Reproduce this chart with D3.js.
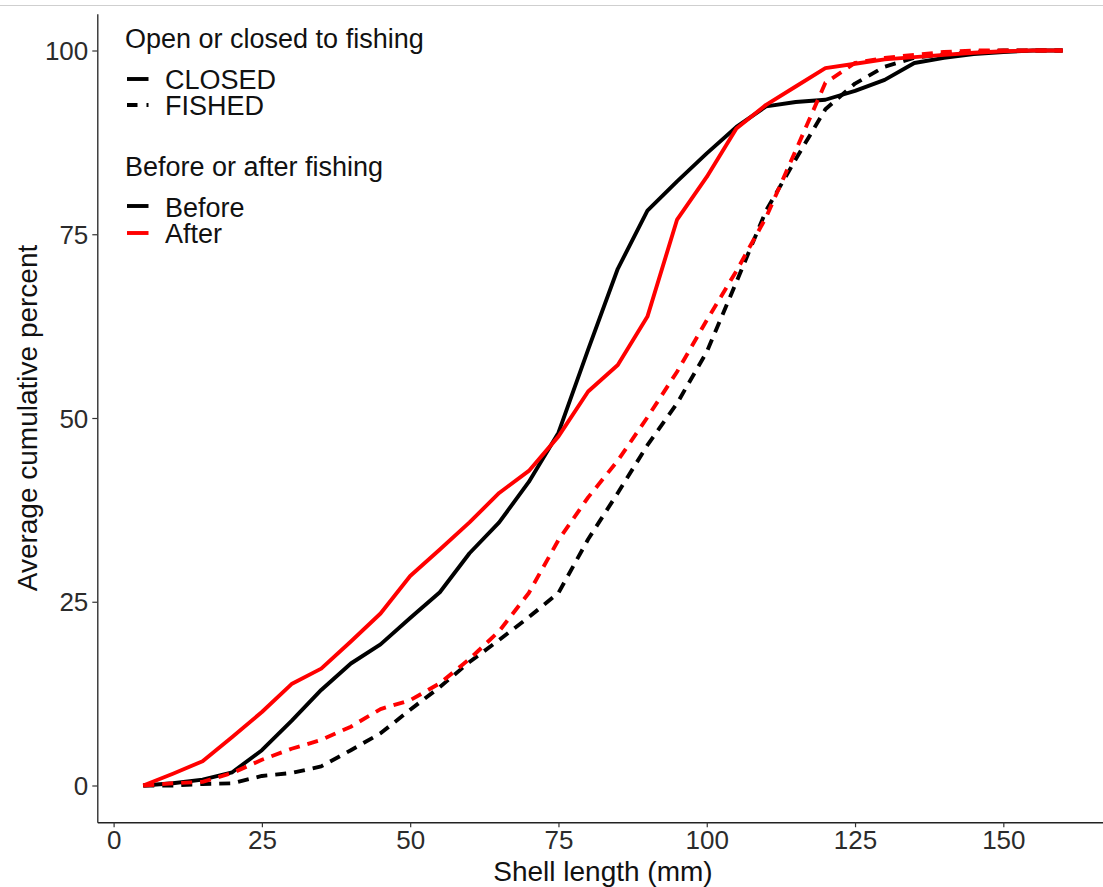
<!DOCTYPE html>
<html>
<head>
<meta charset="utf-8">
<script src="https://cdn.jsdelivr.net/npm/d3@7"></script>
<style>
  body { margin: 0; background: #fff; }
  svg { display: block; }
  text { font-family: "Liberation Sans", Arial, Helvetica, sans-serif; }
</style>
</head>
<body>
<script>
// Shell length classes (mm)
const lengths = [5, 10, 15, 20, 25, 30, 35, 40, 45, 50, 55, 60, 65, 70, 75, 80,
                 85, 90, 95, 100, 105, 110, 115, 120, 125, 130, 135, 140, 145, 150, 155, 160];

// Average cumulative percent per length class
const closedBefore = [0, 0.3, 0.8, 1.8, 4.8, 8.8, 13.0, 16.6, 19.2, 22.8, 26.3, 31.6, 35.8, 41.3, 48.0, 59.3,
                      70.3, 78.2, 82.2, 86.0, 89.6, 92.4, 93.0, 93.3, 94.5, 96.0, 98.3, 99.0, 99.5, 99.8, 100, 100];
const closedAfter  = [0, 1.6, 3.3, 6.6, 10.0, 13.8, 15.9, 19.6, 23.4, 28.5, 32.1, 35.8, 39.8, 42.8, 47.5, 53.6,
                      57.2, 63.8, 77.0, 82.8, 89.4, 92.6, 95.1, 97.6, 98.2, 98.8, 99.1, 99.4, 99.7, 99.9, 100, 100];
const fishedBefore = [0, 0, 0.2, 0.3, 1.3, 1.7, 2.6, 4.8, 7.1, 10.3, 13.4, 16.8, 19.8, 22.9, 26.2, 33.5,
                      39.8, 46.3, 52.0, 59.0, 68.5, 78.2, 85.2, 92.0, 95.5, 97.8, 99.0, 99.5, 99.8, 100, 100, 100];
const fishedAfter  = [0, 0.3, 0.5, 1.7, 3.5, 5.0, 6.2, 8.0, 10.4, 11.6, 13.9, 17.2, 21.0, 26.2, 33.4, 39.2,
                      44.2, 50.1, 56.3, 63.3, 70.0, 77.3, 86.4, 95.6, 98.3, 99.0, 99.4, 99.8, 100, 100, 100, 100];

const xTicks = [0, 25, 50, 75, 100, 125, 150];
const yTicks = [0, 25, 50, 75, 100];

const statusLabels = ["CLOSED", "FISHED"];
const periodLabels = ["Before", "After"];
const periodColors = { Before: "#000000", After: "#ff0000" };
const dashPattern = "11,8";

const series = [
  { status: "CLOSED", period: "Before", values: closedBefore },
  { status: "FISHED", period: "Before", values: fishedBefore },
  { status: "CLOSED", period: "After",  values: closedAfter },
  { status: "FISHED", period: "After",  values: fishedAfter }
];

const W = 1103, H = 887;
const svg = d3.select("body").append("svg")
  .attr("width", W).attr("height", H);

svg.append("rect").attr("width", W).attr("height", H).attr("fill", "#fff");
svg.append("line")
  .attr("x1", 0).attr("x2", W).attr("y1", 5.5).attr("y2", 5.5)
  .attr("stroke", "#cfcfcf").attr("stroke-width", 1.2);

const panel = { left: 97.3, right: 1108.6, top: 13.75, bottom: 822.25 };

const x = d3.scaleLinear().domain([-2.75, 167.75]).range([panel.left, panel.right]);
const y = d3.scaleLinear().domain([-5, 105]).range([panel.bottom, panel.top]);

// Axes
const xAxis = svg.append("g")
  .attr("transform", `translate(0,${panel.bottom})`)
  .call(d3.axisBottom(x).tickValues(xTicks).tickSize(5).tickSizeOuter(0).tickPadding(4));
const yAxis = svg.append("g")
  .attr("transform", `translate(${panel.left},0)`)
  .call(d3.axisLeft(y).tickValues(yTicks).tickSize(5).tickSizeOuter(0).tickPadding(4));

[xAxis, yAxis].forEach(g => {
  g.select(".domain").attr("stroke", "#222").attr("stroke-width", 1.3);
  g.selectAll(".tick line").attr("stroke", "#333").attr("stroke-width", 1.2);
  g.selectAll(".tick text")
    .attr("fill", "#2b2b2b")
    .style("font-size", "26px")
    .style("font-family", '"Liberation Sans", Arial, sans-serif');
});
xAxis.selectAll(".tick text").attr("y", 8.5).attr("dy", "0.71em");
yAxis.selectAll(".tick text").attr("dy", "0.35em");

// Axis titles
svg.append("text")
  .attr("x", (panel.left + panel.right) / 2).attr("y", 881)
  .attr("text-anchor", "middle")
  .style("font-size", "28px").attr("fill", "#111")
  .text("Shell length (mm)");
svg.append("text")
  .attr("transform", `translate(36.5,${(panel.top + panel.bottom) / 2}) rotate(-90)`)
  .attr("text-anchor", "middle")
  .style("font-size", "28px").attr("fill", "#111")
  .text("Average cumulative percent");

// Lines
const line = d3.line()
  .x((d, i) => x(lengths[i]))
  .y(d => y(d));

const plot = svg.append("g");
plot.selectAll("path.series")
  .data(series)
  .join("path")
  .attr("class", "series")
  .attr("d", d => line(d.values))
  .attr("fill", "none")
  .attr("stroke", d => periodColors[d.period])
  .attr("stroke-width", 3.9)
  .attr("stroke-linejoin", "round")
  .attr("stroke-dasharray", d => d.status === "FISHED" ? dashPattern : null);

// Legends
const legend = svg.append("g").style("font-size", "27px").attr("fill", "#111");
legend.append("text").attr("x", 125).attr("y", 48).text("Open or closed to fishing");
const statusRows = [{ label: statusLabels[0], yk: 79, yt: 89 }, { label: statusLabels[1], yk: 105, yt: 115 }];
statusRows.forEach(r => {
  legend.append("line")
    .attr("x1", 127).attr("x2", 148.5).attr("y1", r.yk).attr("y2", r.yk)
    .attr("stroke", "#000").attr("stroke-width", 3.9)
    .attr("stroke-dasharray", r.label === "FISHED" ? "10.5,9" : null);
  legend.append("text").attr("x", 165).attr("y", r.yt).text(r.label);
});

legend.append("text").attr("x", 125).attr("y", 176).text("Before or after fishing");
const periodRows = [{ label: periodLabels[0], yk: 206, yt: 217 }, { label: periodLabels[1], yk: 233, yt: 243 }];
periodRows.forEach(r => {
  legend.append("line")
    .attr("x1", 127).attr("x2", 148.5).attr("y1", r.yk).attr("y2", r.yk)
    .attr("stroke", periodColors[r.label]).attr("stroke-width", 3.9);
  legend.append("text").attr("x", 165).attr("y", r.yt).text(r.label);
});
</script>
</body>
</html>
